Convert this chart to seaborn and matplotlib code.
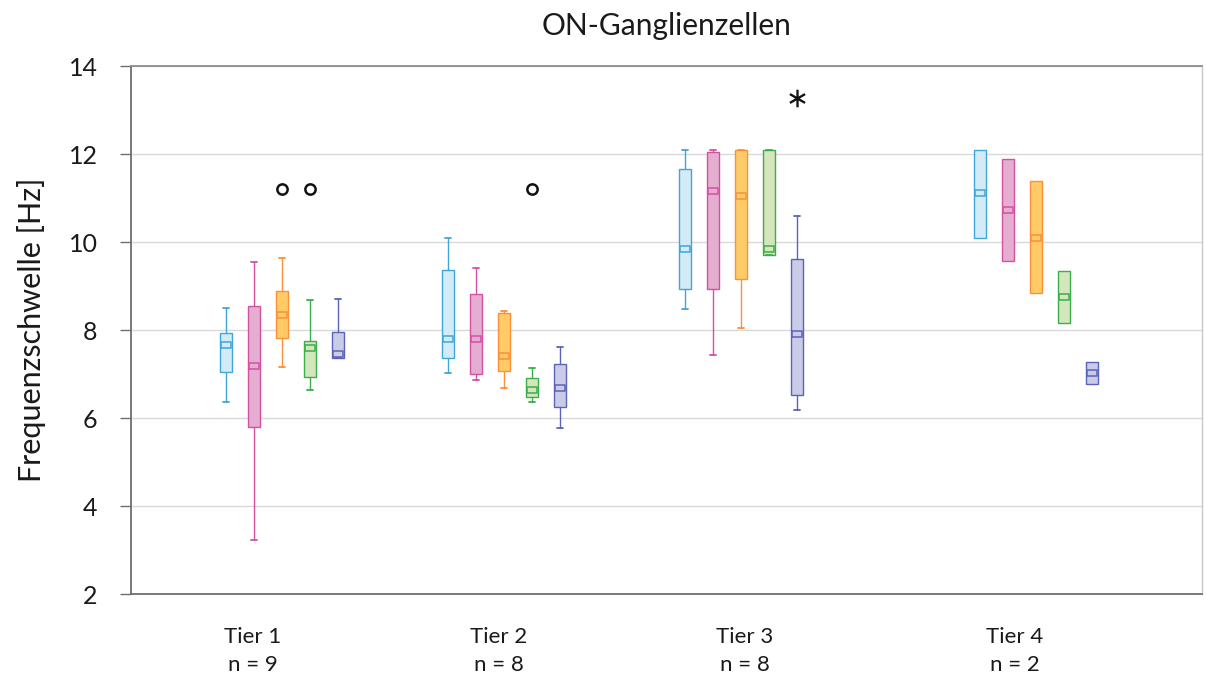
import matplotlib
matplotlib.use("Agg")
import matplotlib.pyplot as plt
import numpy as np
import pandas as pd
import seaborn as sns

# ---- data -------------------------------------------------------------
tiers = ["Tier 1", "Tier 2", "Tier 3", "Tier 4"]
n_cells = [9, 8, 8, 2]
series = ["Reihe 1", "Reihe 2", "Reihe 3", "Reihe 4", "Reihe 5"]

# per tier: one value per series
whisker_high = [
    [8.50, 9.54, 9.64, 8.69, 8.70],
    [10.09, 9.40, 8.44, 7.14, 7.61],
    [12.09, 12.09, 12.09, 12.09, 10.59],
    [12.08, 11.88, 11.38, 9.35, 7.28],
]
q3 = [
    [7.93, 8.54, 8.88, 7.74, 7.95],
    [9.37, 8.82, 8.38, 6.92, 7.22],
    [11.65, 12.05, 12.09, 12.09, 9.61],
    [12.08, 11.88, 11.38, 9.35, 7.28],
]
q1 = [
    [7.04, 5.79, 7.82, 6.93, 7.37],
    [7.37, 6.99, 7.07, 6.48, 6.26],
    [8.93, 8.93, 9.16, 9.70, 6.53],
    [10.10, 9.57, 8.84, 8.16, 6.78],
]
whisker_low = [
    [6.36, 3.22, 7.17, 6.64, 7.37],
    [7.03, 6.86, 6.68, 6.36, 5.77],
    [8.48, 7.43, 8.04, 9.70, 6.18],
    [10.10, 9.57, 8.84, 8.16, 6.78],
]
means = [
    [7.65, 7.19, 8.34, 7.58, 7.46],
    [7.79, 7.80, 7.40, 6.63, 6.68],
    [9.84, 11.17, 11.05, 9.84, 7.90],
    [11.11, 10.73, 10.08, 8.75, 7.03],
]

# outliers (tier index, series index, value)
outlier_tier = [0, 0, 1]
outlier_series = [2, 3, 3]
outlier_value = [11.21, 11.21, 11.21]
# extreme value
extreme_tier = [2]
extreme_series = [4]
extreme_value = [13.27]

# ---- styling ----------------------------------------------------------
edge_colors = ["#3fa6da", "#d64fa6", "#fb8f3c", "#3aae4a", "#5a63b8"]
fill_colors = ["#d3ebf6", "#e4aed1", "#ffcb66", "#d5e6bd", "#cacbe7"]

group_centers = [5.39, 13.32, 21.79, 32.32]
label_pos = [4.36, 13.14, 21.93, 31.57]
slot_offsets = [-2, -1, 0, 1, 2]
box_width = 0.43

# flat rectangle used as the mean marker
mean_marker = [(-1, -0.62), (1, -0.62), (1, 0.62), (-1, 0.62), (-1, -0.62)]

sns.set_theme(style="white")
plt.rcParams["font.family"] = ["Lato", "DejaVu Sans"]

fig = plt.figure(figsize=(12.06, 6.82), dpi=100)
ax = fig.add_axes([131 / 1206, 1 - 594 / 682, (1202 - 131) / 1206, (594 - 66) / 682])

ax.set_xlim(0, 38.25)
ax.set_ylim(2, 14)
ax.set_yticks([2, 4, 6, 8, 10, 12, 14])
ax.yaxis.grid(True, color="#d9d9d9", linewidth=1.0)
ax.set_axisbelow(True)

for ti in range(len(tiers)):
    for si in range(len(series)):
        pos = group_centers[ti] + slot_offsets[si]
        stats = [{
            "whislo": whisker_low[ti][si],
            "q1": q1[ti][si],
            "med": means[ti][si],
            "q3": q3[ti][si],
            "whishi": whisker_high[ti][si],
            "mean": means[ti][si],
            "fliers": [],
        }]
        ec = edge_colors[si]
        fc = fill_colors[si]
        has_whiskers = n_cells[ti] > 2
        parts = ax.bxp(
            stats, positions=[pos], widths=box_width, patch_artist=True,
            showmeans=True, showcaps=has_whiskers, showfliers=False,
            boxprops=dict(facecolor=fc, edgecolor=ec, linewidth=1.0),
            whiskerprops=dict(color=ec, linewidth=1.0),
            capprops=dict(color=ec, linewidth=1.3),
            capwidths=box_width * 0.5,
            meanprops=dict(marker=mean_marker, markersize=6.5, markerfacecolor=fc,
                           markeredgecolor=ec, markeredgewidth=1.1,
                           linestyle="none"),
            manage_ticks=False, zorder=3,
        )
        # only the mean marker is shown inside the box
        for line in parts["medians"]:
            line.set_visible(False)
        if not has_whiskers:
            for line in parts["whiskers"]:
                line.set_visible(False)

# outliers as open circles, extreme values as asterisks
out_df = pd.DataFrame({
    "x": [group_centers[t] + slot_offsets[s] for t, s in zip(outlier_tier, outlier_series)],
    "y": outlier_value,
})
sns.scatterplot(data=out_df, x="x", y="y", ax=ax, marker="o", s=55,
                facecolor="white", edgecolor="#111111", linewidth=1.8, zorder=4)
ext_df = pd.DataFrame({
    "x": [group_centers[t] + slot_offsets[s] for t, s in zip(extreme_tier, extreme_series)],
    "y": extreme_value,
})
sns.scatterplot(data=ext_df, x="x", y="y", ax=ax, marker="$\\ast$", s=160,
                color="#111111", linewidth=0, zorder=4)

# axes frame
for side in ["left", "bottom"]:
    ax.spines[side].set_color("#6e6e6e")
    ax.spines[side].set_linewidth(1.3)
ax.spines["top"].set_color("#8c8c8c")
ax.spines["top"].set_linewidth(1.3)
ax.spines["right"].set_color("#c8c8c8")
ax.spines["right"].set_linewidth(1.0)

ax.set_xticks(label_pos)
ax.set_xticklabels([f"{t}\nn = {n}" for t, n in zip(tiers, n_cells)],
                   fontsize=16, linespacing=1.45, color="#1a1a1a")
ax.tick_params(axis="x", length=0, pad=24)
ax.tick_params(axis="y", direction="out", length=8, width=1.0, color="#6e6e6e",
               labelsize=18, pad=16, left=True, labelcolor="#1a1a1a")
ax.set_xlabel("")
ax.set_ylabel("Frequenzschwelle [Hz]", fontsize=22, color="#1a1a1a", labelpad=16)
ax.set_title("ON-Ganglienzellen", fontsize=21.5, color="#1a1a1a", pad=22)

fig.savefig("out.png", dpi=100, facecolor="white")
